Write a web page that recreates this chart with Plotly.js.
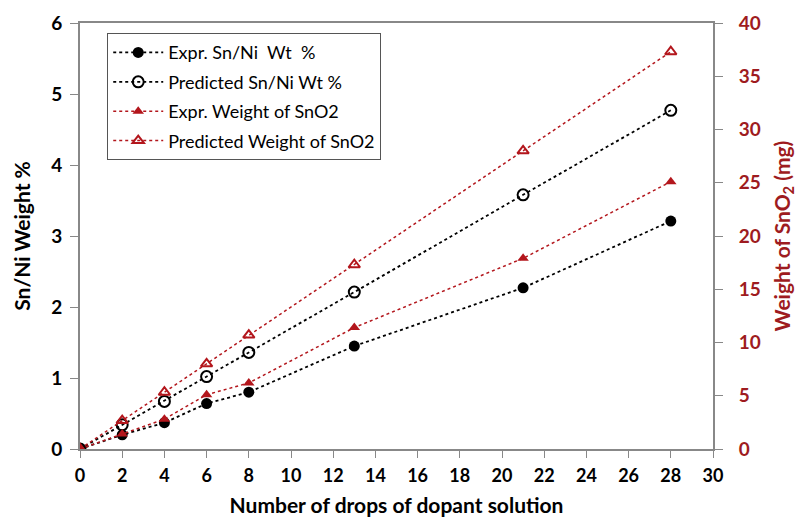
<!DOCTYPE html>
<html>
<head>
<meta charset="utf-8">
<script src="https://cdn.plot.ly/plotly-3.0.1.min.js"></script>
<style>
html,body{margin:0;padding:0;background:#fff;}
#chart{width:798px;height:517px;}
</style>
</head>
<body>
<div id="chart"></div>
<script>
const drops = [0, 2, 4, 6, 8, 13, 21, 28];
const exprSnNi = [0, 0.2, 0.37, 0.64, 0.8, 1.45, 2.27, 3.21];
const predSnNi = [0, 0.34, 0.67, 1.02, 1.36, 2.21, 3.58, 4.77];
const exprSnO2 = [0, 1.4, 2.8, 5.1, 6.2, 11.4, 17.9, 25.1];
const predSnO2 = [0, 2.67, 5.33, 8.0, 10.7, 17.3, 28.0, 37.3];

const black = '#000000';
const red = '#B3161C';
const axisRed = '#9E1B20';
const font = 'Lato, "Open Sans", sans-serif';

const traces = [
  {x: drops, y: exprSnNi, name: 'Expr. Sn/Ni  Wt  %', mode: 'lines+markers', legendgroup: 'a',
   line: {color: black, dash: 'dot', width: 1.8},
   marker: {symbol: 'circle', size: 11, color: black}},
  {x: drops, y: predSnNi, name: 'Predicted Sn/Ni Wt %', mode: 'lines+markers', legendgroup: 'b',
   line: {color: black, dash: 'dot', width: 1.8},
   marker: {symbol: 'circle-open', size: 11, color: black, line: {width: 2, color: black}}},
  {x: drops, y: exprSnO2, name: 'Expr. Weight of SnO2', mode: 'lines+markers', yaxis: 'y2', legendgroup: 'c',
   line: {color: red, dash: 'dot', width: 1.5},
   marker: {symbol: 'triangle-up', size: 10, color: red}},
  {x: drops, y: predSnO2, name: 'Predicted Weight of SnO2', mode: 'lines+markers', yaxis: 'y2', legendgroup: 'd',
   line: {color: red, dash: 'dot', width: 1.5},
   marker: {symbol: 'triangle-up-open', size: 10, color: red, line: {width: 2, color: red}}}
];

const layout = {
  width: 798, height: 517,
  margin: {l: 80, r: 85, t: 23, b: 68},
  paper_bgcolor: '#fff', plot_bgcolor: '#fff',
  font: {family: font, size: 15, color: '#000'},
  showlegend: true,
  legend: {x: 0.043, y: 0.976, xanchor: 'left', yanchor: 'top',
    bordercolor: '#555', borderwidth: 1, bgcolor: '#fff',
    font: {family: font, size: 18, color: '#000'}, tracegroupgap: 3, itemwidth: 50},
  xaxis: {
    range: [0, 30], dtick: 2, showgrid: false, zeroline: false,
    showline: true, linecolor: '#888', linewidth: 2, mirror: true,
    ticks: 'outside', ticklen: 7, tickcolor: '#888', ticklabelstandoff: 2,
    tickfont: {family: font, size: 18, color: '#000', weight: 'bold'},
    title: {text: '<b>Number of drops of dopant solution</b>', font: {family: font, size: 21, color: '#000'}, standoff: 14}
  },
  yaxis: {
    range: [0, 6], dtick: 1, showgrid: false, zeroline: false,
    showline: true, linecolor: '#888', linewidth: 2,
    ticks: 'outside', ticklen: 8, tickcolor: '#888', ticklabelstandoff: 4,
    tickfont: {family: font, size: 19, color: '#000', weight: 'bold'},
    title: {text: '<b>Sn/Ni Weight %</b>', font: {family: font, size: 21, color: '#000'}, standoff: 15}
  },
  yaxis2: {
    overlaying: 'y', side: 'right', range: [0, 40], dtick: 5,
    showgrid: false, zeroline: false, showline: true, linecolor: '#888', linewidth: 2,
    ticks: 'outside', ticklen: 8, tickcolor: '#888', ticklabelstandoff: 12,
    tickfont: {family: font, size: 19, color: axisRed, weight: 'bold'},
    title: {text: '<b>Weight of SnO<sub>2</sub> (mg)</b>', font: {family: font, size: 21, color: axisRed}, standoff: 15}
  }
};

Plotly.newPlot('chart', traces, layout, {displayModeBar: false, staticPlot: true});
</script>
</body>
</html>
